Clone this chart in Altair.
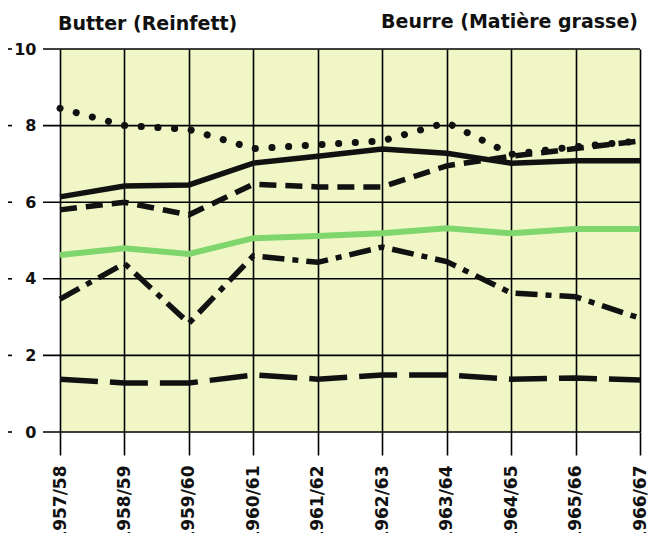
import altair as alt
import pandas as pd

years = ["1957/58", "1958/59", "1959/60", "1960/61", "1961/62",
         "1962/63", "1963/64", "1964/65", "1965/66", "1966/67"]
dotted = [8.45, 8.0, 7.9, 7.4, 7.5, 7.6, 8.08, 7.25, 7.45, 7.6]
solid = [6.14, 6.42, 6.45, 7.02, 7.2, 7.39, 7.28, 7.02, 7.08, 7.08]
dashed = [5.8, 6.0, 5.67, 6.47, 6.4, 6.4, 6.95, 7.2, 7.4, 7.6]
green = [4.62, 4.8, 4.65, 5.06, 5.12, 5.19, 5.32, 5.19, 5.3, 5.3]
dashdot = [3.47, 4.4, 2.84, 4.6, 4.43, 4.83, 4.45, 3.63, 3.53, 2.97]
bottom = [1.38, 1.28, 1.28, 1.49, 1.38, 1.49, 1.49, 1.38, 1.41, 1.36]
y_ticks = [0, 2, 4, 6, 8, 10]
title_left = "Butter (Reinfett)"
title_right = "Beurre (Matière grasse)"

W, H = 580, 383
FONT = "DejaVu Sans"

x_enc = alt.X(
    "year:O", sort=years,
    scale=alt.Scale(type="point", padding=0),
    axis=alt.Axis(title=None, grid=True, gridColor="black", gridWidth=1.6,
                  gridOpacity=1, ticks=True, tickSize=23, tickColor="black",
                  tickWidth=1.6, domain=False, labelAngle=-90,
                  labelFont=FONT, labelFontSize=17, labelFontWeight="bold",
                  labelColor="#111", labelPadding=10, labelAlign="right",
                  labelBaseline="middle", labelOverlap=False),
)
y_scale = alt.Scale(domain=[0, 10], nice=False)
y_axis = alt.Axis(title=None, values=y_ticks, ticks=False, domain=False,
                  grid=False, labelPadding=24, labelFont=FONT,
                  labelFontSize=16, labelFontWeight="bold", labelColor="#111")


def series(vals, **mark):
    df = pd.DataFrame({"year": years, "value": vals})
    return alt.Chart(df).mark_line(**mark).encode(
        x=x_enc,
        y=alt.Y("value:Q", scale=y_scale, axis=y_axis),
    )


ticks_df = pd.DataFrame({"value": y_ticks})
hgrid = alt.Chart(ticks_df).mark_rule(color="black", strokeWidth=1.6).encode(
    y=alt.Y("value:Q", scale=y_scale, axis=y_axis),
    x=alt.value(-17), x2=alt.value(W),
)
lticks = alt.Chart(ticks_df).mark_rule(color="black", strokeWidth=1.6).encode(
    y=alt.Y("value:Q", scale=y_scale, axis=y_axis),
    x=alt.value(-60), x2=alt.value(-48),
)

t_left = alt.Chart(pd.DataFrame({"t": [title_left]})).mark_text(
    font=FONT, fontSize=19, fontWeight="bold", align="left",
    baseline="alphabetic", color="#111"
).encode(x=alt.value(-2), y=alt.value(-19), text="t:N")
t_right = alt.Chart(pd.DataFrame({"t": [title_right]})).mark_text(
    font=FONT, fontSize=19, fontWeight="bold", align="right",
    baseline="alphabetic", color="#111"
).encode(x=alt.value(W - 2), y=alt.value(-21), text="t:N")

layers = [
    hgrid, lticks,
    series(bottom, color="#111", strokeWidth=5.5, strokeDash=[38, 12]),
    series(dashdot, color="#111", strokeWidth=5.5,
           strokeDash=[22, 8, 6, 8]),
    series(green, color="#7fd66c", strokeWidth=6),
    series(dashed, color="#111", strokeWidth=5.5, strokeDash=[17, 9]),
    series(solid, color="#111", strokeWidth=5.5),
    series(dotted, color="#111", strokeWidth=7, strokeCap="round",
           strokeDash=[0.1, 16.6]),
    t_left, t_right,
]

chart = alt.layer(*layers).properties(
    width=W, height=H,
    autosize=alt.AutoSizeParams(type="none"),
    padding={"left": 52, "top": 41, "right": 10, "bottom": 101},
    background="white",
).configure_view(fill="#f0f6c6", strokeWidth=0)

chart.save("out.html", embed_options={"renderer": "svg", "actions": False})
